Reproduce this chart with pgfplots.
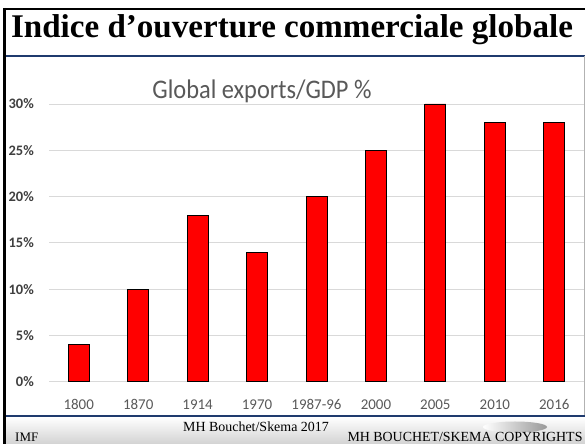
\documentclass[border=0pt]{standalone}
\usepackage{pgfplots}
\pgfplotsset{compat=1.18}
\usepackage{fontspec}
\setmainfont{Liberation Serif}
\newfontfamily\calibri{Carlito}
\definecolor{txtgray}{HTML}{595959}
\definecolor{lblgray}{HTML}{404040}
\definecolor{gridgray}{HTML}{D9D9D9}
\definecolor{navy}{HTML}{1F3A6E}
\begin{document}
\begin{tikzpicture}[x=1bp,y=1bp]
% slide frame
\path[use as bounding box] (0,0) rectangle (585,444);
\fill[white] (0,0) rectangle (585,444);
\shade[top color=white, bottom color=gray!35] (6,0) rectangle (585,27);
\shade[left color=white, right color=gray!80] (515,17) ellipse [x radius=32, y radius=5.5];
\draw[line width=2.5bp] (3,435) -- (585,435);
\draw[line width=3bp] (4.5,436) -- (4.5,0);
\draw[navy, line width=1.2bp] (6,388) -- (585,388);
\draw[gray!60, line width=0.8bp] (584,388) -- (584,28);
\draw[navy, line width=1.5bp] (6,28) -- (585,28);

\node[font={\fontsize{33.2}{35}\selectfont\bfseries}, anchor=base] at (292,406) {Indice d’ouverture commerciale globale};
\node[font={\calibri\fontsize{24.5}{26}\selectfont}, text=txtgray] at (262,353) {\scalebox{1}[1.1]{Global exports/GDP \%}};

\node[font={\fontsize{14}{16}\selectfont}, anchor=base] at (256,12) {MH Bouchet/Skema 2017};
\node[font={\fontsize{13}{15}\selectfont}, anchor=base west, inner sep=0pt] at (15,2) {IMF};
\node[anchor=base, inner sep=0pt] at (465,2) {\resizebox{235bp}{!}{\fontsize{12}{14}\selectfont MH BOUCHET/SKEMA COPYRIGHTS}};

% plot area corner of the chart
\coordinate (plotorigin) at (49,62.3);
\begin{axis}[
    at={(plotorigin)}, anchor=south west,
    scale only axis,
    width=535bp, height=277.7bp,
    xmin=-0.5, xmax=8.5,
    ymin=0, ymax=30,
    axis line style={draw=none},
    major tick length=0pt,
    ymajorgrids,
    grid style={gridgray, line width=0.9bp},
    xtick={0,...,8},
    xticklabels={1800,1870,1914,1970,1987-96,2000,2005,2010,2016},
    ytick={0,5,10,15,20,25,30},
    yticklabels={0\%,5\%,10\%,15\%,20\%,25\%,30\%},
    xticklabel style={font={\calibri\fontsize{15}{17}\selectfont}, text=txtgray, inner sep=0pt, anchor=base, yshift=-28bp},
    yticklabel style={font={\calibri\bfseries\fontsize{14.5}{16}\selectfont}, text=lblgray, inner sep=0pt, xshift=-15bp},
    clip=false,
]
\addplot[ybar, bar width=21bp, fill=red, draw=black, line width=0.8bp] coordinates {
    (0,4) (1,10) (2,18) (3,14) (4,20) (5,25) (6,30) (7,28) (8,28)
};
\end{axis}
\end{tikzpicture}
\end{document}
